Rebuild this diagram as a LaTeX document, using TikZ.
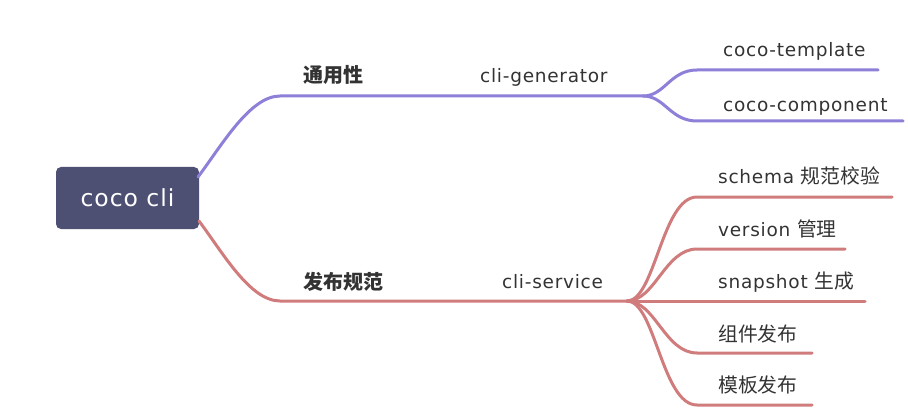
\documentclass[tikz,border=0pt]{standalone}
\usepackage{fontspec}
\setmainfont{DejaVu Sans}
\newfontfamily\cjk{Noto Sans CJK SC}
\newfontfamily\cjkl[Scale=1.07]{Noto Sans CJK SC}
\newfontfamily\lat[LetterSpace=4]{DejaVu Sans}
\definecolor{purp}{HTML}{8E80D8}
\definecolor{redl}{HTML}{D07C7C}
\definecolor{rootc}{HTML}{4D5073}
\definecolor{txt}{HTML}{333333}
\tikzset{
  lbl/.style={anchor=base west, inner sep=0pt, text=txt, font=\fontsize{18.5}{22}\selectfont\lat},
  toplbl/.style={anchor=base west, inner sep=0pt, text=txt, font=\fontsize{20}{22}\selectfont\cjk\bfseries},
  pline/.style={draw=purp, line width=3pt, line cap=round},
  rline/.style={draw=redl, line width=3pt, line cap=round},
}
\begin{document}
\begin{tikzpicture}[x=1pt,y=-1pt]
\useasboundingbox (0,0) rectangle (908,417);
% root
\node[fill=rootc, rounded corners=5pt, minimum width=143pt, minimum height=62pt, inner sep=0pt,
      text=white, font=\fontsize{23.5}{26}\selectfont\lat] (root) at (127.5,198) {coco cli};
% labels
\node[toplbl] (ty) at (303,83) {通用性};
\node[lbl] (gen) at (480,83) {cli-generator};
\node[lbl] (tpl) at (723,57) {coco-template};
\node[lbl] (cmp) at (723,112) {coco-component};
\node[toplbl] (fb) at (303,289) {发布规范};
\node[lbl] (svc) at (502,288) {cli-service};
\node[lbl] (sch) at (718,184) {schema {\cjkl 规范校验}};
\node[lbl] (ver) at (718,236) {version {\cjkl 管理}};
\node[lbl] (snp) at (718,288) {snapshot {\cjkl 生成}};
\node[lbl] (zj) at (718,341) {\cjkl 组件发布};
\node[lbl] (mb) at (718,392) {\cjkl 模板发布};
% coordinates
\coordinate (pa) at (198,177);
\coordinate (pb) at (280,96);
\coordinate (ps) at (643,96);
\coordinate (t1) at (697,70);
\coordinate (t2) at (878,70);
\coordinate (c1) at (697,121);
\coordinate (c2) at (903,121);
\coordinate (ra) at (199,221);
\coordinate (rb) at (280,301);
\coordinate (rs) at (627,301);
\coordinate (s1) at (697,197); \coordinate (s2) at (892,197);
\coordinate (v1) at (697,249); \coordinate (v2) at (845,249);
\coordinate (n2) at (865,301);
\coordinate (z1) at (697,353); \coordinate (z2) at (812,353);
\coordinate (m1) at (697,405); \coordinate (m2) at (812,405);
% purple
\draw[pline] (pa) .. controls (222,145) and (250,96) .. (pb) -- (ps);
\draw[pline] (ps) .. controls (665,96) and (670,70) .. (t1) -- (t2);
\draw[pline] (ps) .. controls (665,96) and (670,121) .. (c1) -- (c2);
% red
\draw[rline] (ra) .. controls (223,253) and (250,301) .. (rb) -- (rs);
\draw[rline] (rs) .. controls (655,301) and (662,197) .. (s1) -- (s2);
\draw[rline] (rs) .. controls (655,301) and (665,249) .. (v1) -- (v2);
\draw[rline] (rs) -- (n2);
\draw[rline] (rs) .. controls (655,301) and (665,353) .. (z1) -- (z2);
\draw[rline] (rs) .. controls (655,301) and (662,405) .. (m1) -- (m2);
\end{tikzpicture}
\end{document}
